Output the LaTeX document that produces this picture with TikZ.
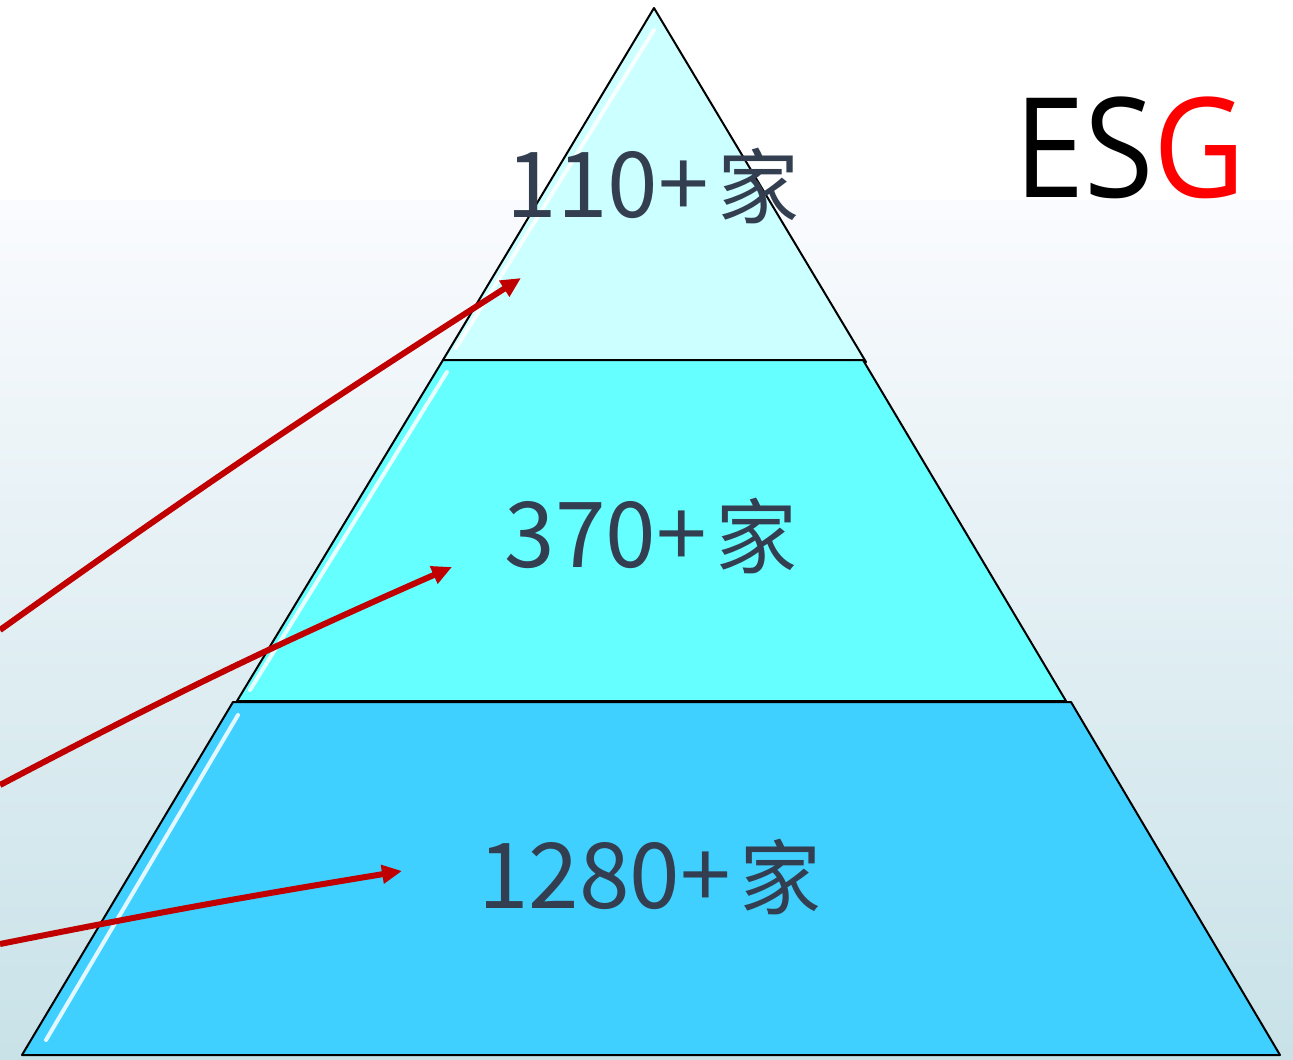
\documentclass[tikz,border=0pt]{standalone}
\usepackage{fontspec}
\newfontfamily\cjk{Noto Sans CJK SC}
\newfontfamily\esgfont{Open Sans}
\usetikzlibrary{arrows.meta}
\definecolor{tierA}{RGB}{204,255,255}
\definecolor{tierB}{RGB}{102,255,255}
\definecolor{tierC}{RGB}{64,208,255}
\definecolor{numtext}{RGB}{51,63,80}
\definecolor{arrowred}{RGB}{192,0,0}
\definecolor{bgbot}{RGB}{200,226,232}
\definecolor{bgmid}{RGB}{236,243,251}
\definecolor{bgtop}{RGB}{250,251,254}
\newcommand{\jia}{\hspace{9pt}{\fontsize{82}{82}\selectfont 家}}
\begin{document}
\begin{tikzpicture}[x=1pt,y=-1pt,
  tier/.style={draw=black,line width=2pt,line join=round},
  gloss/.style={draw=white,line width=4pt,line cap=round,opacity=0.85},
  num/.style={text=numtext,font=\cjk\fontsize{91}{91}\selectfont,inner sep=0pt,anchor=base},
  redarrow/.style={draw=arrowred,line width=6pt,-{Triangle[length=20pt,width=18pt]}}]
\useasboundingbox (0,0) rectangle (1293,1060);
\fill[white] (0,0) rectangle (1293,200);
\shade[top color=bgtop, middle color=bgmid, bottom color=bgbot] (0,200) rectangle (1293,1060);
% tiers
\path[tier, fill=tierA] (654,8) -- (866,362) -- (443,360) -- cycle;
\path[tier, fill=tierB] (443,360) -- (863,360) -- (1066,701) -- (237,701) -- cycle;
\path[tier, fill=tierC] (233,702) -- (1071,702) -- (1280,1055) -- (22,1055) -- cycle;
% gloss highlights
\draw[gloss] (654,30) -- (456,348);
\draw[gloss] (447,372) -- (250,690);
\draw[gloss] (238,715) -- (46,1040);
% labels
\node[num] (t1) at (653,217) {110+\jia};
\node[num] (t2) at (651,567) {370+\jia};
\node[num] (t3) at (650,908) {1280+\jia};
\node[anchor=base west, inner sep=0pt, xscale=0.91, font=\esgfont\fontsize{139}{139}\selectfont] (esg) at (1014,197) {ES\textcolor{red}{G}};
% arrows
\coordinate (a1s) at (0,630);
\coordinate (a1e) at (521,278);
\coordinate (a2s) at (0,785);
\coordinate (a2e) at (452,567);
\coordinate (a3s) at (0,944);
\coordinate (a3e) at (402,871);
\draw[redarrow] (a1s) to[bend left=1.5] (a1e);
\draw[redarrow] (a2s) to[bend left=2] (a2e);
\draw[redarrow] (a3s) to[bend left=1] (a3e);
\end{tikzpicture}
\end{document}
